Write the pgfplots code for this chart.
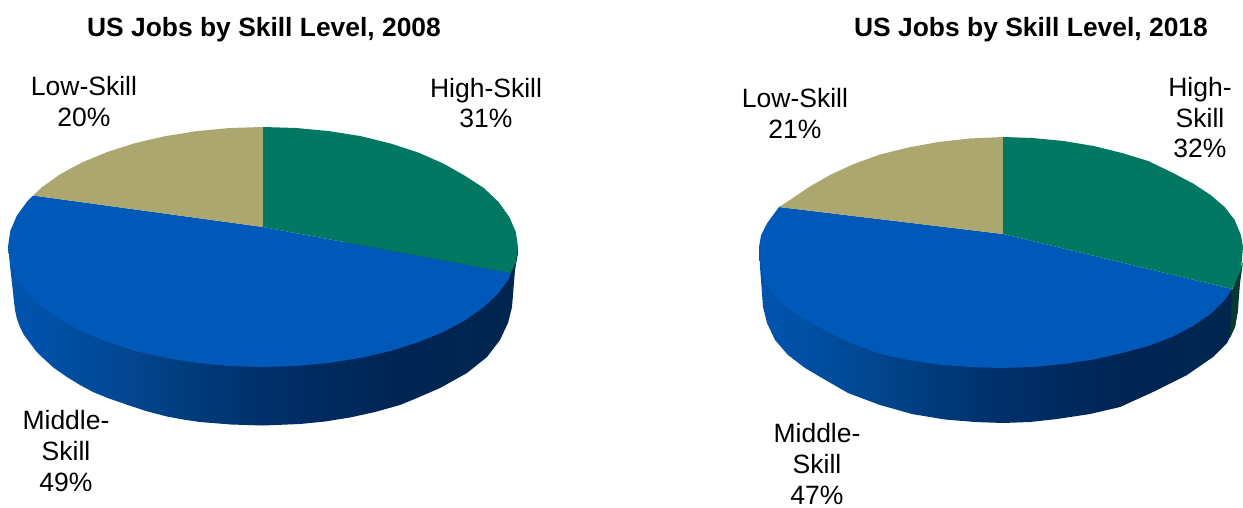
\documentclass[border=0pt]{standalone}
\usepackage{fontspec}
\setmainfont{Liberation Sans}
\usepackage{pgfplots}
\pgfplotsset{compat=1.18}
\definecolor{cGreen}{RGB}{2,119,98}
\definecolor{cTan}{RGB}{172,167,111}
\definecolor{cBlue}{RGB}{0,89,184}
\definecolor{s1}{RGB}{0,84,175}
\definecolor{s2}{RGB}{0,78,161}
\definecolor{s3}{RGB}{3,69,143}
\definecolor{s4}{RGB}{0,58,120}
\definecolor{s5}{RGB}{0,48,106}
\definecolor{s6}{RGB}{0,42,94}
\definecolor{s7}{RGB}{0,37,83}
\definecolor{s8}{RGB}{0,38,79}
\definecolor{gSide}{RGB}{6,58,46}
\pgfdeclarehorizontalshading{sideshade}{100bp}{color(0bp)=(s1);color(25bp)=(s1);color(31bp)=(s2);color(37bp)=(s3);color(44bp)=(s4);color(50bp)=(s5);color(56.5bp)=(s6);color(63.5bp)=(s7);color(75bp)=(s8);color(100bp)=(s8)}
\newcommand{\lab}[3]{\node[anchor=base,inner sep=0pt,font=\fontsize{26.5}{30}\selectfont] at (axis cs:#1,#2) {#3};}
\newcommand{\ttl}[3]{\node[anchor=base,inner sep=0pt,font=\fontsize{26.4}{30}\selectfont\bfseries] at (axis cs:#1,#2) {#3};}
\begin{document}
\begin{tikzpicture}
\path[use as bounding box] (0,0) rectangle (1243pt,-508pt);
\begin{axis}[
  scale only axis, width=1243pt, height=508pt,
  xmin=0, xmax=1243, ymin=0, ymax=508, y dir=reverse,
  hide axis, clip=false, anchor=north west, at={(0,0)},
]
% ---- 2008 pie ----
\addplot[draw=none, shading=sideshade] coordinates {
(8,247)(9,255)(10.5,270)(12,283)(13.5,297)(15,310)(17,319)(20,327)(24,335)(30,343)(36,351)(43,358)(54,368)(67,377)(80,385)(93,392)(109,398.5)(125,404)(146,411)(167,416.5)(183,419.5)(200,422)(231,424.5)(263,425.5)(300,424)(325,421.5)(350,417.5)(375,412)(400,405)(417,398)(440,388)(467,373)(487,357)(500,340)(508,323)(512,307)(515,270)(518,253)(518,247)(263,240)};
% Middle-Skill 49%
\addplot[draw=none, fill=cBlue] coordinates {
(263,227)(510.5,273)(509.3,278.1)(498.6,292.9)(483.8,307)(465.3,320.1)(443.3,331.9)(418.2,342.2)(390.5,351)(360.6,357.9)(329,362.9)(296.3,366)(263,367)
(229.7,366)(197,362.9)(165.4,357.9)(135.5,351)(107.8,342.2)(82.7,331.9)(60.7,320.1)(42.2,307)(27.4,292.9)(16.7,278.1)(10.2,262.7)(8,247)
(10.2,231.3)(16.7,215.9)(27.4,201.1)(33,195.5)};
% Low-Skill 20%
\addplot[draw=none, fill=cTan] coordinates {
(263,227)(33,195.5)(42.2,187)(60.7,173.9)(82.7,162.1)(107.8,151.8)(135.5,143)(165.4,136.1)(197,131.1)(229.7,128)(263,127)};
% High-Skill 31%
\addplot[draw=none, fill=cGreen] coordinates {
(263,227)(263,127)(296.3,128)(329,131.1)(360.6,136.1)(390.5,143.5)(418.2,152.5)(443.3,163.5)(465.3,176)(483.8,188)(498.6,202)(509.3,217)(515.8,232)(518,247)(515.8,262.7)(510.5,273)};
% ---- 2018 pie ----
\addplot[draw=none, shading=sideshade] coordinates {
(759,247)(759.5,255)(760,267)(761.5,287)(763,307)(767,323)(775,340)(788,355)(805,368)(822,378)(848,393)(880,405)(912,414)(945,419.5)(975,422)(1003,423)(1030,422)(1057,419)(1090,414)(1120,407)(1153,392)(1187,375)(1213,357)(1227,343)(1235,327)(1238,310)(1232,290)(1000,240)};
\addplot[draw=none, fill=gSide] coordinates {
(1243,262)(1240,283)(1238,310)(1235,327)(1230,338)(1232,290)};
% Middle-Skill 47%
\addplot[draw=none, fill=cBlue] coordinates {
(1003,234)(1232,289)(1224.6,300)(1210.6,314)(1193,326)(1172.1,337)(1148.3,346)(1122,353)(1093.6,359.5)(1063.6,364)(1032.6,367)(1001,368)
(969.4,367)(938.4,364.5)(908.4,360)(880,354)(853.7,344)(830,333)(812,323)(794,312)(778,300)(765,283)(761,266)(759,247)(761.1,235)(767.3,223)(779,207)};
% Low-Skill 21%
\addplot[draw=none, fill=cTan] coordinates {
(1003,234)(779,207)(791.4,199)(809,187)(830,175)(853.7,164)(880,154.5)(908.4,147.5)(938.4,142)(969.4,138.5)(1003,137)};
% High-Skill 32%
\addplot[draw=none, fill=cGreen] coordinates {
(1003,234)(1003,137)(1032.6,138)(1063.6,141)(1093.6,146)(1122,153)(1148.3,161)(1172,172.5)(1193,183.5)(1210.6,195)(1224.6,207)(1234.7,220)(1240.9,235)(1243,247)(1241,270)(1232,289)};
% ---- text ----
\ttl{264}{36}{US Jobs by Skill Level, 2008}
\ttl{1031}{36}{US Jobs by Skill Level, 2018}
\lab{84}{95}{Low-Skill}
\lab{84}{126}{20\%}
\lab{486}{97}{High-Skill}
\lab{486}{127}{31\%}
\lab{66}{429}{Middle-}
\lab{66}{460}{Skill}
\lab{66}{491}{49\%}
\lab{795}{107}{Low-Skill}
\lab{795}{138}{21\%}
\lab{1200}{96}{High-}
\lab{1200}{127}{Skill}
\lab{1200}{157}{32\%}
\lab{817}{442}{Middle-}
\lab{817}{473}{Skill}
\lab{817}{504}{47\%}
\end{axis}
\end{tikzpicture}
\end{document}
